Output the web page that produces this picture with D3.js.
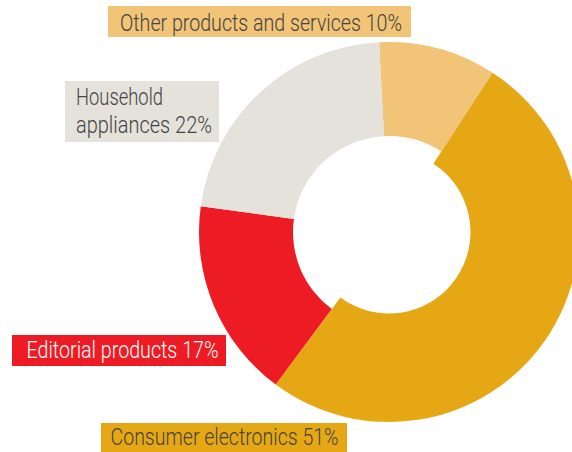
<!DOCTYPE html>
<html><head><meta charset="utf-8">
<script src="https://cdn.jsdelivr.net/npm/d3@7"></script>
<style>
html,body{margin:0;padding:0;background:#fff;overflow:hidden;}
svg{display:block;}
text{font-family:Roboto,"Liberation Sans Narrow","DejaVu Sans Condensed",sans-serif;font-weight:300;}
</style></head>
<body>
<script>
// Data
const categories = ["Other products and services", "Consumer electronics", "Editorial products", "Household appliances"];
const values = [10, 51, 17, 22];
const sliceColors = ["#F1C477", "#E6A714", "#ED1C24", "#E5E1DB"];
const labelTextColors = ["#444444", "#444444", "#ffffff", "#444444"];

const W = 572, H = 452;
const svg = d3.select("body").append("svg").attr("width", W).attr("height", H);

const cx = 389, cy = 232, R = 190;
const color = d3.scaleOrdinal(categories, sliceColors);
const textColor = d3.scaleOrdinal(categories, labelTextColors);

const data = categories.map((c, i) => ({cat: c, value: values[i]}));
const start = -3.0 * Math.PI / 180;
const pie = d3.pie().value(d => d.value).sort(null).startAngle(start).endAngle(start + 2 * Math.PI);
const arcs = pie(data);

const g = svg.append("g").attr("transform", `translate(${cx},${cy})`);
const arcGen = d3.arc()
  .innerRadius(d => d.data.cat === "Consumer electronics" ? 81.5 : 96)
  .outerRadius(R);
g.selectAll("path").data(arcs).join("path")
  .attr("d", arcGen)
  .attr("fill", d => color(d.data.cat));

// Labels (annotation boxes)
const labelSpecs = {
  "Other products and services": {box:[108, 6, 303, 31], lines:[{x:120, y:30.5, w:282}]},
  "Household appliances": {box:[65, 81, 154, 61], lines:[{x:76, y:105, w:87}, {x:76, y:132.5, w:136}]},
  "Editorial products": {box:[12, 335, 214, 31], lines:[{x:26.5, y:357.5, w:192}]},
  "Consumer electronics": {box:[101, 423, 246, 30], lines:[{x:110.5, y:445, w:228}]}
};

arcs.forEach(a => {
  const c = a.data.cat;
  const spec = labelSpecs[c];
  const lg = svg.append("g");
  lg.append("rect").attr("x", spec.box[0]).attr("y", spec.box[1])
    .attr("width", spec.box[2]).attr("height", spec.box[3])
    .attr("fill", color(c));
  const texts = spec.lines.length === 2
    ? ["Household", `appliances ${a.data.value}%`]
    : [`${c} ${a.data.value}%`];
  spec.lines.forEach((ln, i) => {
    lg.append("text").attr("x", ln.x).attr("y", ln.y)
      .attr("font-size", 24.5).attr("fill", textColor(c)).text(texts[i])
      .attr("textLength", ln.w).attr("lengthAdjust", "spacingAndGlyphs");
  });
});
</script>
</body></html>
